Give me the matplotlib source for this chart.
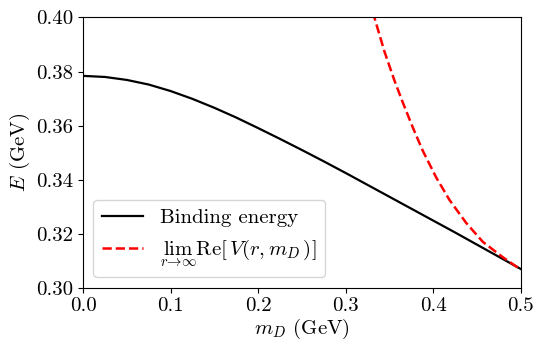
import matplotlib
matplotlib.use("Agg")
import matplotlib.pyplot as plt

plt.rcParams['font.family'] = 'serif'
plt.rcParams['font.serif'] = ['cmr10']
plt.rcParams['mathtext.fontset'] = 'cm'
plt.rcParams['axes.formatter.use_mathtext'] = True
plt.rcParams['font.size'] = 15

# Binding energy (black solid)
m_bind = [0.0, 0.025, 0.05, 0.075, 0.1, 0.125, 0.15, 0.175, 0.2, 0.225, 0.25,
          0.275, 0.3, 0.325, 0.35, 0.375, 0.4, 0.425, 0.45, 0.475, 0.5]
E_bind = [0.3784, 0.3780, 0.3769, 0.3752, 0.3728, 0.3699, 0.3666, 0.3630, 0.3591,
          0.3551, 0.3510, 0.3468, 0.3425, 0.3381, 0.3337, 0.3293, 0.3249, 0.3205,
          0.3160, 0.3115, 0.3070]

# Asymptotic potential (red dashed)
m_lim = [0.325, 0.333, 0.3444, 0.3558, 0.3654, 0.3768, 0.3883, 0.4035, 0.4188,
         0.4379, 0.4569, 0.4798, 0.5]
E_lim = [0.4092, 0.400, 0.3875, 0.3768, 0.3686, 0.3594, 0.3507, 0.3409, 0.3325,
         0.3240, 0.3170, 0.3113, 0.3068]

xticks = [0.0, 0.1, 0.2, 0.3, 0.4, 0.5]
yticks = [0.30, 0.32, 0.34, 0.36, 0.38, 0.40]

fig = plt.figure(figsize=(5.39, 3.43), dpi=100)
ax = fig.add_axes([0.154, 0.161, 0.8117, 0.788])
ax.plot(m_bind, E_bind, color='black', lw=1.6, label='Binding energy')
ax.plot(m_lim, E_lim, color='red', lw=1.8, ls='--',
        label=r'$\lim_{r\to\infty}\mathrm{Re}[\,V(r,m_D)]$')
ax.set_xlim(0, 0.5)
ax.set_ylim(0.30, 0.40)
ax.set_xticks(xticks)
ax.set_yticks(yticks)
ax.set_xticklabels([f"{v:.1f}" for v in xticks])
ax.set_yticklabels([f"{v:.2f}" for v in yticks])
ax.set_xlabel(r'$m_D$ (GeV)', labelpad=1)
ax.set_ylabel(r'$E$ (GeV)', labelpad=3)
ax.legend(loc='lower left')
fig.savefig('out.png', dpi=100)
